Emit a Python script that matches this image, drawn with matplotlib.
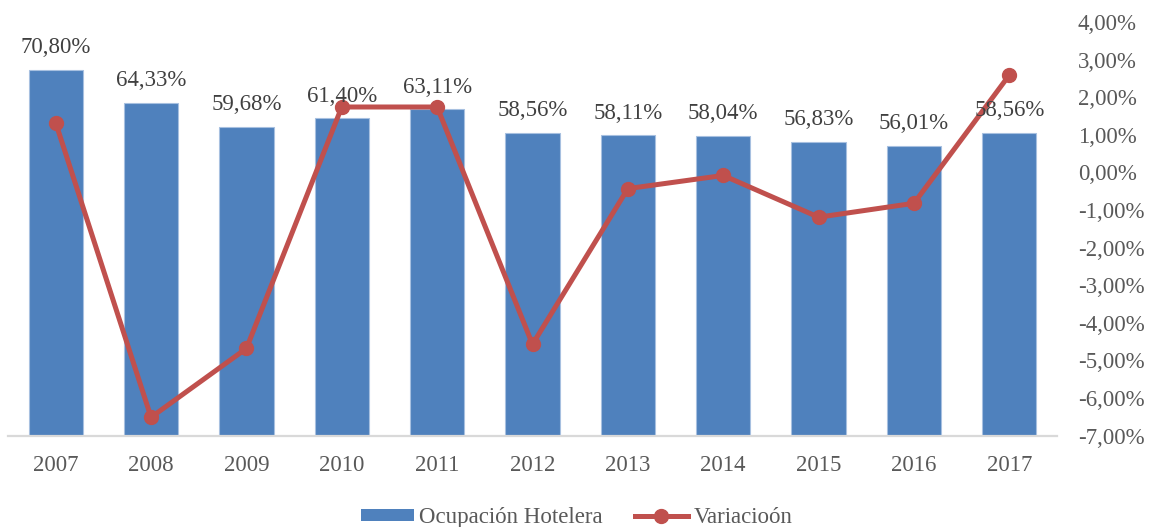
import matplotlib
matplotlib.use("Agg")
import matplotlib.pyplot as plt
from matplotlib.ticker import FuncFormatter, MultipleLocator
from matplotlib.lines import Line2D
from matplotlib.patches import Patch

years = ["2007", "2008", "2009", "2010", "2011", "2012", "2013", "2014", "2015", "2016", "2017"]
ocupacion = [70.80, 64.33, 59.68, 61.40, 63.11, 58.56, 58.11, 58.04, 56.83, 56.01, 58.56]
variacion = [1.32, -6.51, -4.68, 1.74, 1.74, -4.57, -0.43, -0.08, -1.19, -0.82, 2.59]

bar_color = "#4F81BD"
line_color = "#C0504D"
label_color = "#404040"
tick_color = "#595959"
FS = 16.5

plt.rcParams["font.family"] = ["Liberation Serif", "DejaVu Serif"]

fig = plt.figure(figsize=(11.51, 5.27), dpi=100)
ax = fig.add_axes([8 / 1151, 1 - 435.7 / 527, (1057 - 8) / 1151, (435.7 - 22) / 527])
x = list(range(len(years)))
ax.bar(x, ocupacion, width=0.57, color=bar_color, edgecolor="#A7C0E0", linewidth=0.8, zorder=2)
ax.set_xlim(-0.5, len(years) - 0.5)
ax.set_ylim(0, 80)
ax.set_yticks([])
ax.set_xticks(x)
ax.set_xticklabels(years, fontsize=FS, color=tick_color)
ax.tick_params(axis="x", length=0, pad=14)
for s in ["top", "right", "left"]:
    ax.spines[s].set_visible(False)
ax.spines["bottom"].set_color("#D9D9D9")
ax.spines["bottom"].set_linewidth(1.6)

ax2 = ax.twinx()
ax2.plot(x, variacion, color=line_color, linewidth=3.6, marker="o", markersize=10,
         solid_capstyle="round", zorder=3)
ax2.set_ylim(-7, 4)
ax2.yaxis.set_major_locator(MultipleLocator(1))
ax2.yaxis.set_major_formatter(FuncFormatter(lambda v, p: f"{v:.2f}%".replace(".", ",")))
ax2.tick_params(axis="y", length=0, pad=15, labelsize=FS, labelcolor=tick_color)
for s in ax2.spines.values():
    s.set_visible(False)

for xi, v in zip(x, ocupacion):
    ax2.annotate(f"{v:.2f}%".replace(".", ","), xy=(xi, v), xycoords=ax.transData,
                 xytext=(0, 12), textcoords="offset points", ha="center", va="baseline",
                 fontsize=FS, color=label_color, zorder=5)

handles = [Patch(facecolor=bar_color, edgecolor="none"),
           Line2D([], [], color=line_color, linewidth=3.6, marker="o", markersize=10)]
fig.legend(handles, ["Ocupación Hotelera", "Variacioón"], loc="center",
           bbox_to_anchor=(0.501, 0.0175), ncol=2, frameon=False, fontsize=FS,
           handlelength=2.3, handleheight=0.45, handletextpad=0.25, columnspacing=1.4,
           labelcolor=tick_color)

fig.savefig("out.png", dpi=100)
